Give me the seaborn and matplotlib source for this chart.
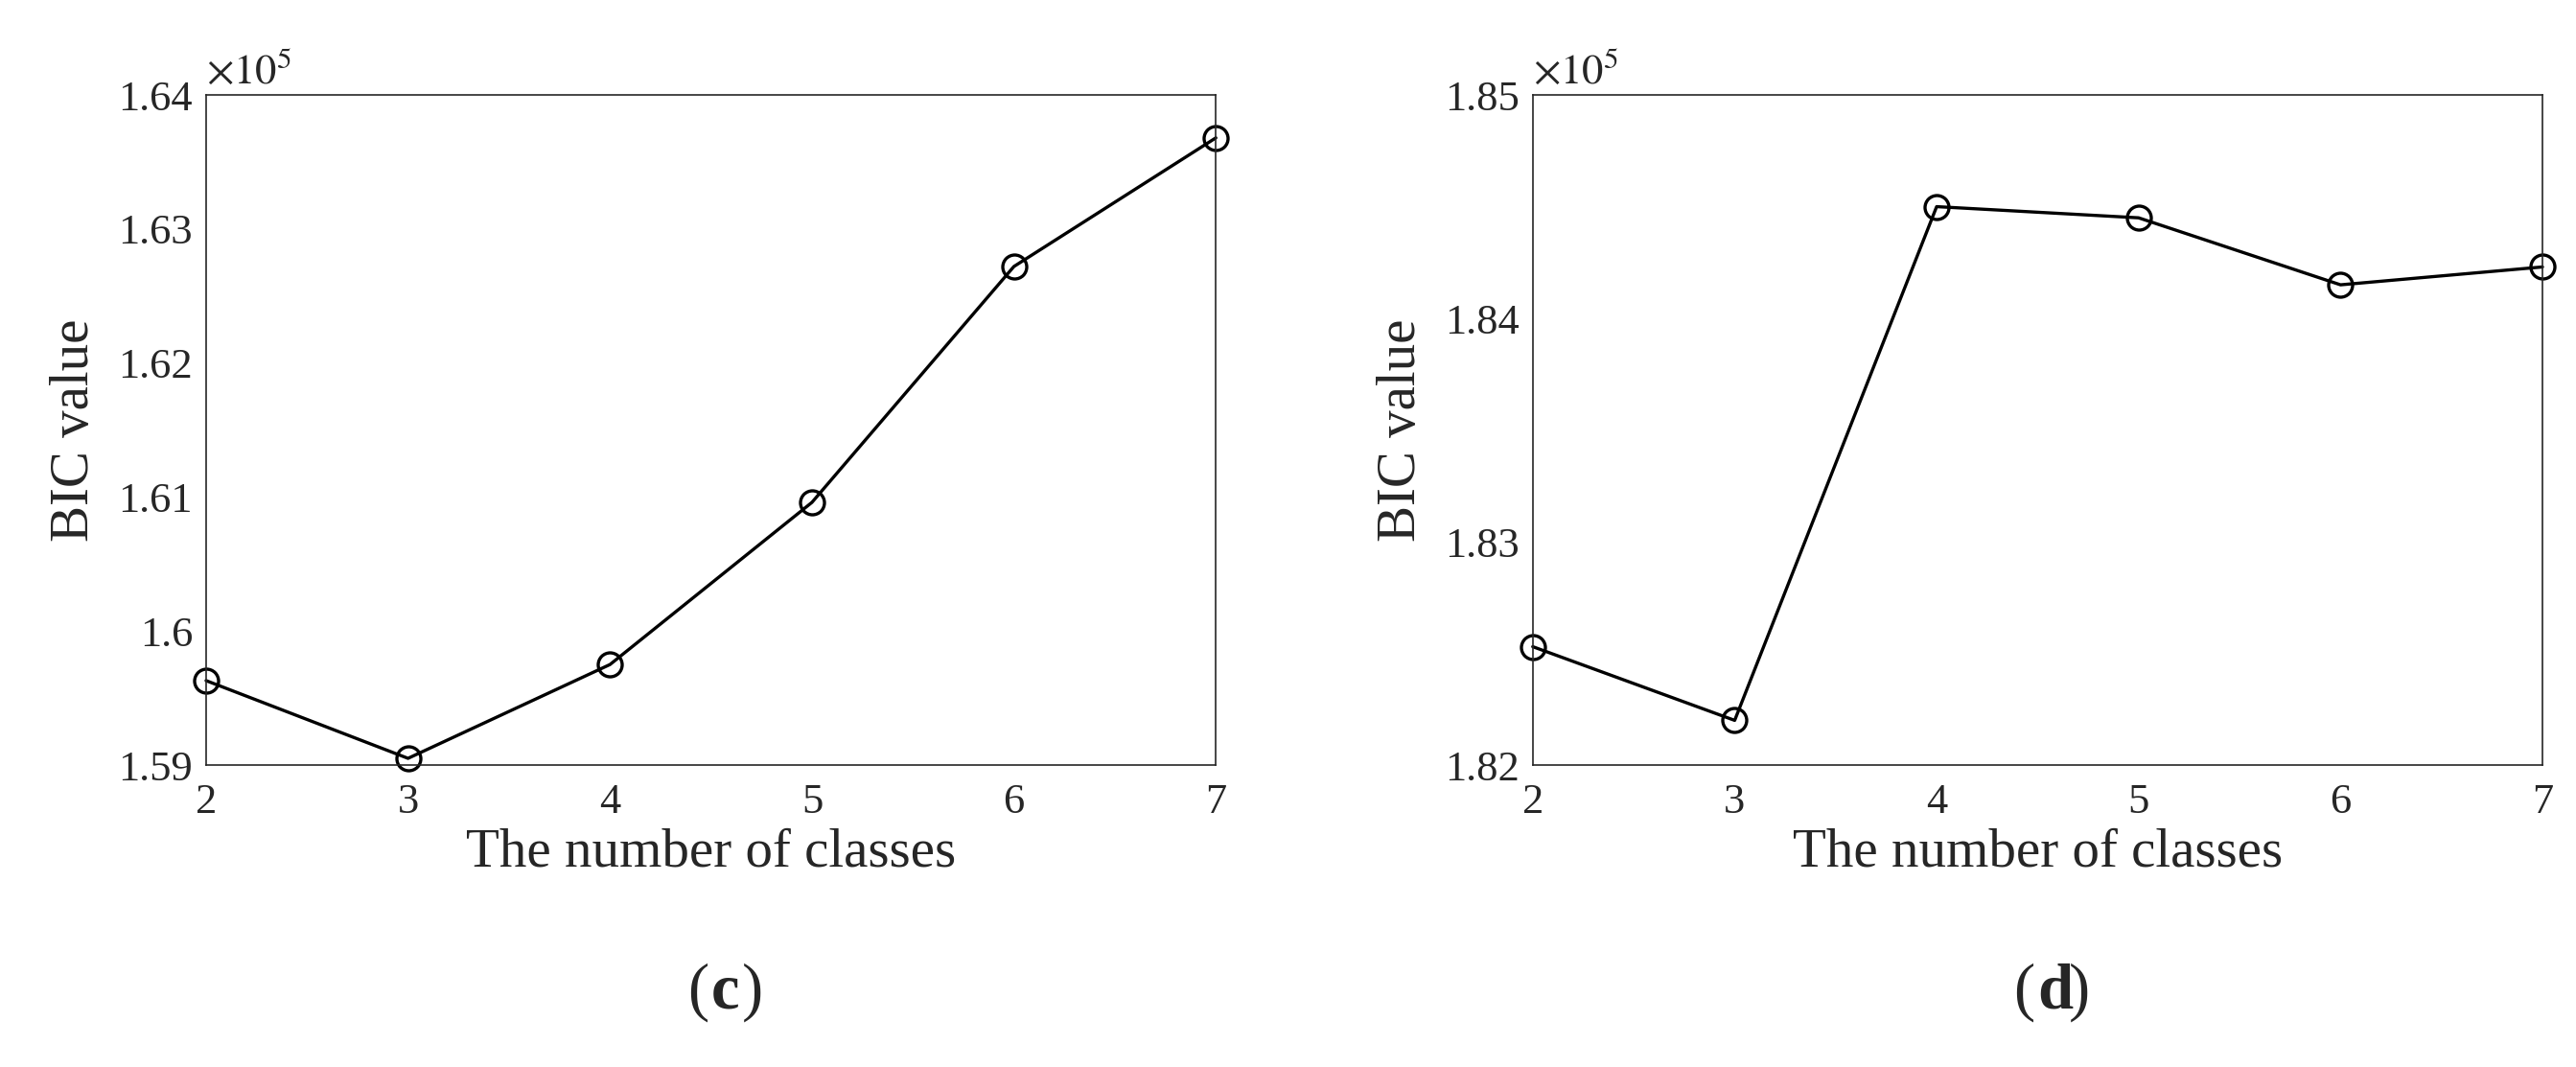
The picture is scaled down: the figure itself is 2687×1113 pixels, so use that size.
import matplotlib
import seaborn as sns

matplotlib.use("Agg")
import matplotlib.pyplot as plt

classes = [2, 3, 4, 5, 6, 7]
bic_c = [1.5963, 1.5905, 1.5975, 1.6096, 1.6272, 1.6368]
bic_d = [1.8253, 1.8220, 1.8450, 1.8445, 1.8415, 1.8423]
yticks_c = [1.59, 1.60, 1.61, 1.62, 1.63, 1.64]
ylabels_c = ["1.59", "1.6", "1.61", "1.62", "1.63", "1.64"]
yticks_d = [1.82, 1.83, 1.84, 1.85]
ylabels_d = ["1.82", "1.83", "1.84", "1.85"]

sns.set_theme(style="white")
plt.rcParams["font.family"] = ["Liberation Serif", "DejaVu Serif"]
plt.rcParams["mathtext.fontset"] = "stix"

fig = plt.figure(figsize=(26.87, 11.13), dpi=100)
panels = [
    (0.080, bic_c, yticks_c, ylabels_c, (1.59, 1.64), "c"),
    (0.595, bic_d, yticks_d, ylabels_d, (1.82, 1.85), "d"),
]
for left, values, ticks, labels, ylim, tag in panels:
    ax = fig.add_axes([left, 0.283, 0.392, 0.628])
    sns.lineplot(x=classes, y=values, ax=ax, color="black", linewidth=2.4,
                 marker="o", markersize=18, markerfacecolor="none",
                 markeredgecolor="black", markeredgewidth=2.4, clip_on=False)
    ax.set_xlim(2, 7)
    ax.set_ylim(*ylim)
    ax.set_xticks(classes)
    ax.set_yticks(ticks)
    ax.set_yticklabels(labels)
    ax.tick_params(direction="in", length=8, labelsize=32, colors="#262626",
                   top=False, right=False)
    ax.tick_params(axis="x", pad=14)
    ax.tick_params(axis="y", pad=10)
    for spine in ax.spines.values():
        spine.set_color("#262626")
        spine.set_linewidth(1.2)
    ax.set_xlabel("The number of classes", fontsize=41, color="#262626", labelpad=4)
    ax.set_ylabel("BIC value", fontsize=41, color="#262626", labelpad=14)
    ax.text(0.0, 1.005, r"$\times 10^5$", transform=ax.transAxes, fontsize=32,
            color="#262626", ha="left", va="bottom")
    cx = left + 0.196
    fig.text(cx - 0.001, 0.07, "(", fontsize=48, ha="right", va="center")
    fig.text(cx, 0.07, tag, fontsize=48, fontweight="bold", ha="left", va="center")
    fig.text(cx + 0.012, 0.07, ")", fontsize=48, ha="left", va="center")

fig.savefig("out.png", dpi=100)
